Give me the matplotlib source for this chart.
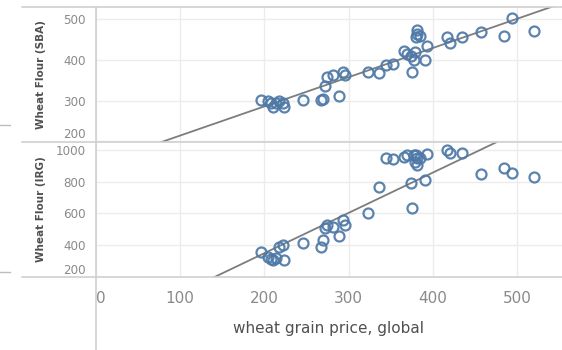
import numpy as np
import matplotlib.pyplot as plt
from matplotlib.lines import Line2D

# wheat grain price (global) against two wheat flour prices, one point per month
grain_price = [196, 204, 208, 214, 218, 222, 224, 210, 246, 267, 270, 289, 272, 275,
               282, 294, 296, 323, 336, 344, 353, 366, 370, 374, 375, 378, 379, 381,
               381, 380, 385, 391, 393, 417, 420, 435, 457, 484, 494, 520]
flour_sba = [301, 299, 294, 294, 300, 295, 284, 285, 301, 301, 304, 312, 335, 359,
             364, 370, 363, 370, 368, 387, 390, 422, 414, 409, 370, 399, 420, 473,
             465, 457, 458, 401, 434, 456, 442, 456, 469, 459, 502, 471]
flour_irg = [358, 326, 312, 315, 389, 400, 305, 305, 410, 387, 432, 454, 507, 526,
             514, 559, 526, 599, 763, 948, 941, 958, 968, 794, 636, 968, 926, 905,
             950, 968, 948, 811, 975, 1000, 983, 983, 847, 885, 853, 828]

x_ticks = [0, 100, 200, 300, 400, 500]
sba_ticks = [200, 300, 400, 500]
irg_ticks = [200, 400, 600, 800, 1000]

W, H = 562, 350
blue = '#4e79a7'
grid_c = '#ececec'
border_c = '#d0d0d0'
tick_c = '#8a8a8a'
title_c = '#505050'

fig = plt.figure(figsize=(W / 100, H / 100), dpi=100)
left = 95.75 / W
width = 1 - left
ax1 = fig.add_axes([left, 1 - 141.7 / H, width, (141.7 - 7.3) / H])
ax2 = fig.add_axes([left, 1 - 276.7 / H, width, (276.7 - 141.7) / H], sharex=ax1)

x = np.array(grain_price)
xs = np.array([0, 560])
panels = [(ax1, flour_sba, sba_ticks, (199, 529.5), 'Wheat Flour (SBA)'),
          (ax2, flour_irg, irg_ticks, (200, 1052), 'Wheat Flour (IRG)')]

for ax, vals, ticks, ylim, label in panels:
    y = np.array(vals)
    k, b = np.polyfit(x, y, 1)
    ax.plot(xs, k * xs + b, color='#7d7d7d', lw=1.3, zorder=2)
    ax.plot(x, y, 'o', ms=7.2, mfc='none', mec=blue, mew=1.6, alpha=0.92, zorder=3)
    ax.set_xlim(0, 553.4)
    ax.set_ylim(*ylim)
    ax.set_yticks(ticks)
    ax.set_yticklabels([str(t) for t in ticks])
    ax.set_xticks(x_ticks)
    ax.grid(True, color=grid_c, lw=1)
    ax.set_axisbelow(True)
    for s in ax.spines.values():
        s.set_visible(False)
    ax.tick_params(axis='y', length=0, pad=7, labelsize=8.6, labelcolor=tick_c)
    ax.tick_params(axis='x', length=0, pad=10, labelsize=11, labelcolor=tick_c)
    # bottom label sits just above the panel edge
    ax.get_yticklabels()[0].set_verticalalignment('bottom')
    cy = ax.get_position().y0 + ax.get_position().height / 2
    fig.text(41 / W, cy, label, rotation=90, ha='center', va='center',
             fontsize=7.5, fontweight='bold', color=title_c)

ax1.tick_params(axis='x', labelbottom=False)
ax2.get_xticklabels()[0].set_horizontalalignment('left')
ax2.set_xlabel('wheat grain price, global', fontsize=11, color=title_c, labelpad=11)

# panel borders and the axis rule
for yp in [7.3, 141.7, 276.7]:
    fig.add_artist(Line2D([22 / W, 1], [1 - yp / H] * 2, transform=fig.transFigure,
                          color=border_c, lw=1.2))
fig.add_artist(Line2D([left, left], [1 - 7.3 / H, 0], transform=fig.transFigure,
                      color=border_c, lw=1.2))
# cut-off rules from the neighbouring sheet
for yp in [125, 272]:
    fig.add_artist(Line2D([0, 10 / W], [1 - yp / H] * 2, transform=fig.transFigure,
                          color='#bdbdbd', lw=1))

fig.savefig('out.png', dpi=100)
